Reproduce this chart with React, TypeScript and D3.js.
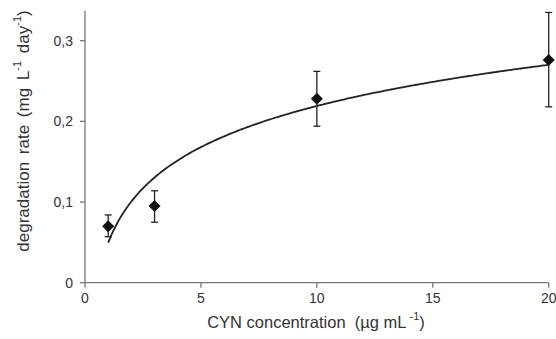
import React from "react";
import * as d3 from "d3";

const concentrations = [1, 3, 10, 20];
const rates = [0.07, 0.095, 0.228, 0.276];
const errLow = [0.057, 0.075, 0.194, 0.218];
const errHigh = [0.084, 0.114, 0.262, 0.335];
const xTicks = [0, 5, 10, 15, 20];
const yTicks = [0, 0.1, 0.2, 0.3];
const yTickLabels = ["0", "0,1", "0,2", "0,3"];
// logarithmic fit y = a ln(x) + b
const fitA = 0.0736;
const fitB = 0.0496;

export default function App() {
  const W = 556, H = 339;
  const x = d3.scaleLinear().domain([0, 20]).range([85, 548.7]);
  const y = d3.scaleLinear().domain([0, 0.3]).range([282.7, 40.7]);
  const yTop = y(0.337);
  const fitPts = d3.range(1, 20.001, 0.1).map((c) => [c, fitA * Math.log(c) + fitB] as [number, number]);
  const line = d3.line<[number, number]>().x((d) => x(d[0])).y((d) => y(d[1])).curve(d3.curveMonotoneX);
  const axisColor = "#777";
  const textColor = "#333";
  const font = "Liberation Sans, Arial, sans-serif";
  const ds = 6;
  return (
    <svg width={W} height={H} style={{ position: "absolute", left: 0, top: 0, background: "#fff" }} fontFamily={font}>
      {/* axes */}
      <line x1={x(0)} x2={x(0)} y1={yTop} y2={y(0)} stroke={axisColor} strokeWidth={1.3} />
      <line x1={x(0)} x2={x(20)} y1={y(0)} y2={y(0)} stroke={axisColor} strokeWidth={1.3} />
      {yTicks.map((t, i) => (
        <g key={"y" + i}>
          <line x1={x(0) - 5} x2={x(0)} y1={y(t)} y2={y(t)} stroke={axisColor} strokeWidth={1.3} />
          <text x={x(0) - 12} y={y(t)} textAnchor="end" dominantBaseline="central" fontSize={14} fill={textColor}>
            {yTickLabels[i]}
          </text>
        </g>
      ))}
      {xTicks.map((t, i) => (
        <g key={"x" + i}>
          <line x1={x(t)} x2={x(t)} y1={y(0)} y2={y(0) + 5} stroke={axisColor} strokeWidth={1.3} />
          <text x={x(t)} y={y(0) + 15} textAnchor="middle" dominantBaseline="central" fontSize={14} fill={textColor}>
            {t}
          </text>
        </g>
      ))}
      {/* fit curve */}
      <path d={line(fitPts) || ""} fill="none" stroke="#222" strokeWidth={1.8} />
      {/* error bars and points */}
      {concentrations.map((c, i) => {
        const cx = x(c);
        const cy = y(rates[i]);
        return (
          <g key={"p" + i}>
            <line x1={cx} x2={cx} y1={y(errLow[i])} y2={y(errHigh[i])} stroke="#222" strokeWidth={1.3} />
            <line x1={cx - 3.5} x2={cx + 3.5} y1={y(errLow[i])} y2={y(errLow[i])} stroke="#222" strokeWidth={1.3} />
            <line x1={cx - 3.5} x2={cx + 3.5} y1={y(errHigh[i])} y2={y(errHigh[i])} stroke="#222" strokeWidth={1.3} />
            <path d={`M${cx},${cy - ds} L${cx + ds},${cy} L${cx},${cy + ds} L${cx - ds},${cy} Z`} fill="#111" />
          </g>
        );
      })}
      {/* axis titles */}
      <text x={316} y={322} textAnchor="middle" dominantBaseline="central" fontSize={16.5} fill={textColor}>
        CYN concentration{"\u00a0\u00a0"}(µg mL
        <tspan fontSize={11} dy={-6}>{" -1"}</tspan>
        <tspan dy={6}>)</tspan>
      </text>
      <text
        transform={`translate(23,131) rotate(-90)`}
        textAnchor="middle"
        dominantBaseline="central"
        fontSize={17}
        wordSpacing={3}
        fill={textColor}
      >
        degradation rate (mg L
        <tspan fontSize={11} dy={-6}>-1</tspan>
        <tspan dy={6}> day</tspan>
        <tspan fontSize={11} dy={-6}>-1</tspan>
        <tspan dy={6}>)</tspan>
      </text>
    </svg>
  );
}
